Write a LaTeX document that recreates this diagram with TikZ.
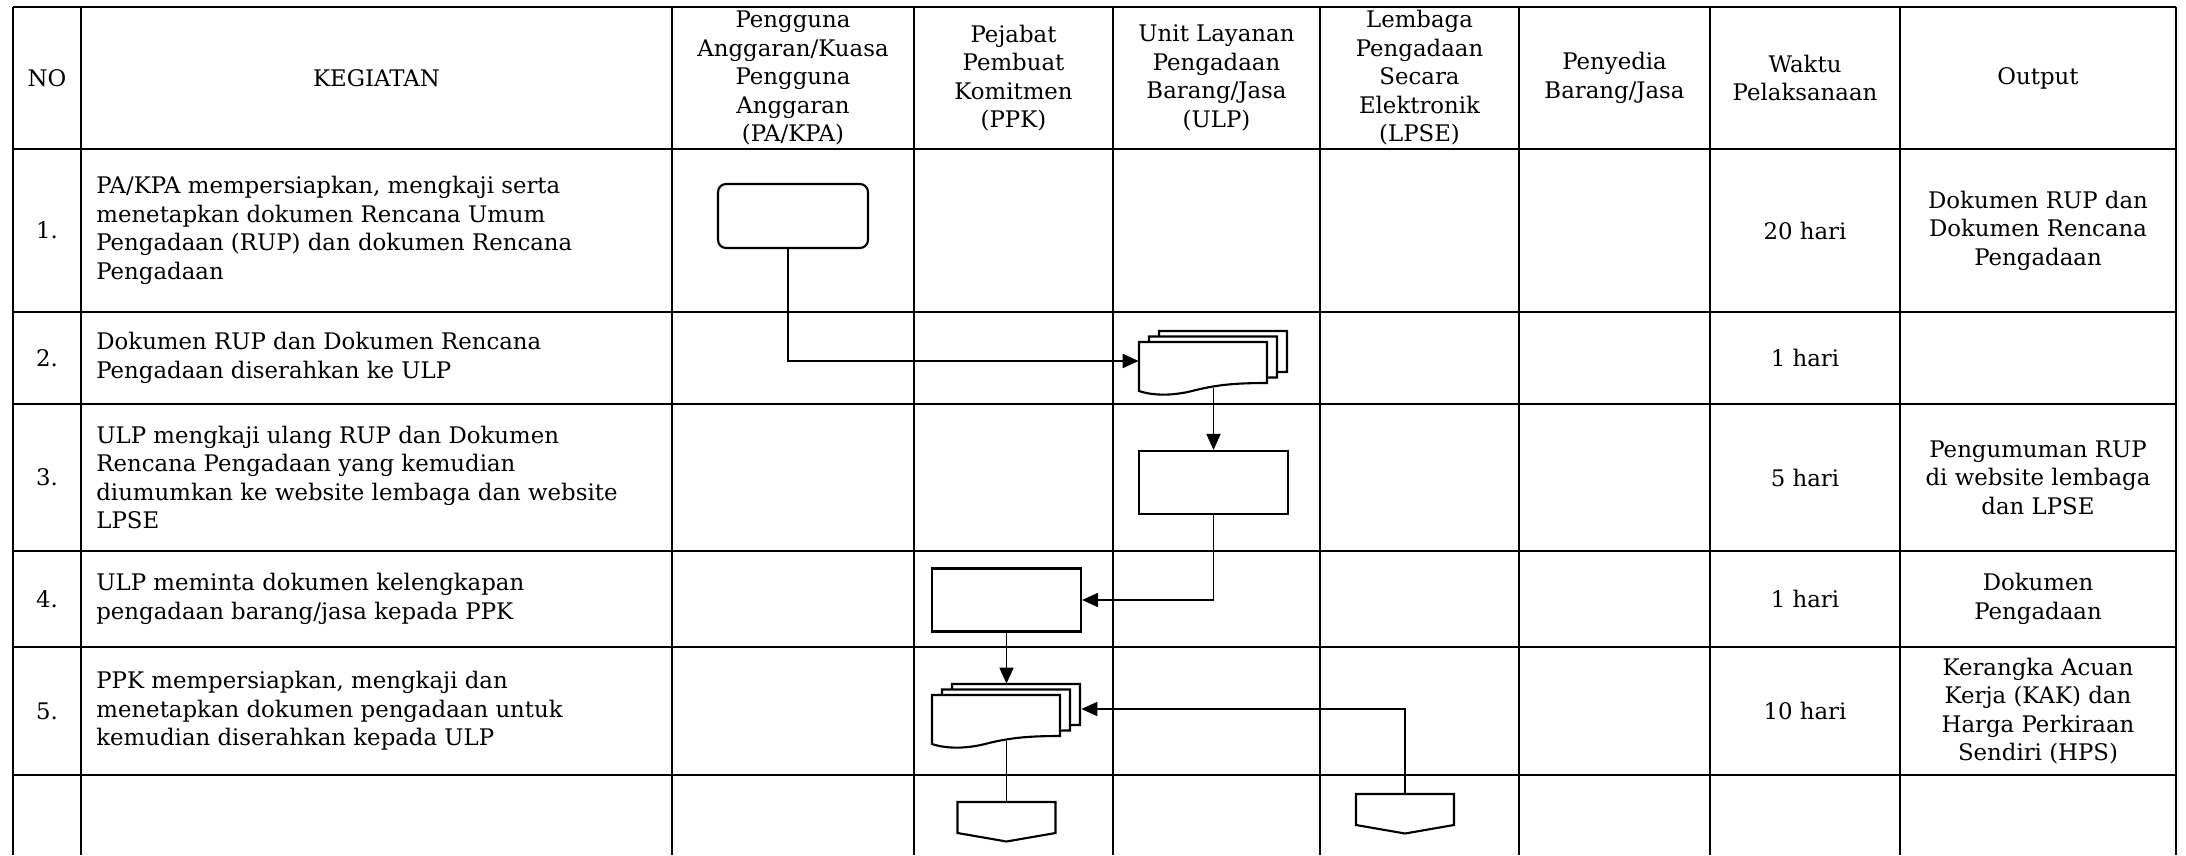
\documentclass[tikz,border=0pt]{standalone}
\usepackage{fontspec}
\setmainfont{DejaVu Serif}
\usetikzlibrary{arrows.meta}
\tikzset{
  gridline/.style={line width=1pt},
  flowline/.style={line width=1pt},
  flowarrow/.style={flowline,-{Triangle[length=0.32cm,width=0.28cm]}},
  shapeline/.style={line width=1.2pt,fill=white},
  startbox/.style={shapeline,draw,rounded corners=0.16cm,minimum width=3cm,minimum height=1.28cm,inner sep=0pt},
  procbox/.style={shapeline,draw,minimum width=2.98cm,minimum height=1.26cm,inner sep=0pt},
  stackbox/.style={minimum width=2.98cm,minimum height=1.2cm,inner sep=0pt},
  pagebox/.style={minimum width=1.96cm,minimum height=0.62cm,inner sep=0pt},
  headtext/.style={align=center,inner sep=0pt},
  celltext/.style={align=left,anchor=west,inner sep=0pt},
  pics/docstack/.style={code={
    \foreach \docshift in {2,1,0}
      \draw[shapeline,shift={(10*\docshift,-5.5*\docshift)}] (0,0) -- (128,0) -- (128,41) .. controls (95,41) and (78,43) .. (57,48) .. controls (35,54) and (15,54) .. (0,49) -- cycle;
    \node[stackbox] (-doc) at (74.5,19) {};
  }},
  pics/offpage/.style={code={
    \draw[shapeline] (0,0) -- (98,0) -- (98,31) -- (49,39.5) -- (0,31) -- cycle;
    \node[pagebox] (-box) at (49,15.5) {};
  }}
}
\begin{document}
\begin{tikzpicture}[x=0.02cm,y=-0.02cm,every node/.style={font=\fontsize{13pt}{16.2pt}\selectfont}]
        \newcommand{\tabxleft}{13}
        \newcommand{\tabxno}{81}
        \newcommand{\tabxkeg}{672}
        \newcommand{\tabxpa}{914}
        \newcommand{\tabxppk}{1113}
        \newcommand{\tabxulp}{1320}
        \newcommand{\tabxlpse}{1519}
        \newcommand{\tabxpny}{1710}
        \newcommand{\tabxwkt}{1900}
        \newcommand{\tabxright}{2176}
        \newcommand{\tabxtext}{96}
        \newcommand{\tabytop}{7}
        \newcommand{\tabyhead}{149}
        \newcommand{\tabyrowa}{312}
        \newcommand{\tabyrowb}{404}
        \newcommand{\tabyrowc}{551}
        \newcommand{\tabyrowd}{647}
        \newcommand{\tabyrowe}{775}
        \newcommand{\tabybottom}{855}
        \useasboundingbox (0,0) rectangle (2186,855);
        % table grid
        \draw[gridline] (\tabxleft,\tabytop) -- (\tabxright,\tabytop);
        \draw[gridline] (\tabxleft,\tabyhead) -- (\tabxright,\tabyhead);
        \draw[gridline] (\tabxleft,\tabyrowa) -- (\tabxright,\tabyrowa);
        \draw[gridline] (\tabxleft,\tabyrowb) -- (\tabxright,\tabyrowb);
        \draw[gridline] (\tabxleft,\tabyrowc) -- (\tabxright,\tabyrowc);
        \draw[gridline] (\tabxleft,\tabyrowd) -- (\tabxright,\tabyrowd);
        \draw[gridline] (\tabxleft,\tabyrowe) -- (\tabxright,\tabyrowe);
        \draw[gridline] (\tabxleft,\tabytop) -- (\tabxleft,\tabybottom);
        \draw[gridline] (\tabxno,\tabytop) -- (\tabxno,\tabybottom);
        \draw[gridline] (\tabxkeg,\tabytop) -- (\tabxkeg,\tabybottom);
        \draw[gridline] (\tabxpa,\tabytop) -- (\tabxpa,\tabybottom);
        \draw[gridline] (\tabxppk,\tabytop) -- (\tabxppk,\tabybottom);
        \draw[gridline] (\tabxulp,\tabytop) -- (\tabxulp,\tabybottom);
        \draw[gridline] (\tabxlpse,\tabytop) -- (\tabxlpse,\tabybottom);
        \draw[gridline] (\tabxpny,\tabytop) -- (\tabxpny,\tabybottom);
        \draw[gridline] (\tabxwkt,\tabytop) -- (\tabxwkt,\tabybottom);
        \draw[gridline] (\tabxright,\tabytop) -- (\tabxright,\tabybottom);
        % header
        \node[headtext] (hno) at (0.5*\tabxleft+0.5*\tabxno,0.5*\tabytop+0.5*\tabyhead) {NO};
        \node[headtext] (hkeg) at (0.5*\tabxno+0.5*\tabxkeg,0.5*\tabytop+0.5*\tabyhead) {KEGIATAN};
        \node[headtext] (hpa) at (0.5*\tabxkeg+0.5*\tabxpa,0.5*\tabytop+0.5*\tabyhead) {Pengguna\\Anggaran/Kuasa\\Pengguna\\Anggaran\\(PA/KPA)};
        \node[headtext] (hppk) at (0.5*\tabxpa+0.5*\tabxppk,0.5*\tabytop+0.5*\tabyhead) {Pejabat\\Pembuat\\Komitmen\\(PPK)};
        \node[headtext] (hulp) at (0.5*\tabxppk+0.5*\tabxulp,0.5*\tabytop+0.5*\tabyhead) {Unit Layanan\\Pengadaan\\Barang/Jasa\\(ULP)};
        \node[headtext] (hlpse) at (0.5*\tabxulp+0.5*\tabxlpse,0.5*\tabytop+0.5*\tabyhead) {Lembaga\\Pengadaan\\Secara\\Elektronik\\(LPSE)};
        \node[headtext] (hpny) at (0.5*\tabxlpse+0.5*\tabxpny,0.5*\tabytop+0.5*\tabyhead) {Penyedia\\Barang/Jasa};
        \node[headtext] (hwkt) at (0.5*\tabxpny+0.5*\tabxwkt,0.5*\tabytop+0.5*\tabyhead) {Waktu\\Pelaksanaan};
        \node[headtext] (hout) at (0.5*\tabxwkt+0.5*\tabxright,0.5*\tabytop+0.5*\tabyhead) {Output};
        % rows
        \node[headtext] (rano) at (0.5*\tabxleft+0.5*\tabxno,0.5*\tabyhead+0.5*\tabyrowa) {1.};
        \node[celltext] (rakeg) at (\tabxtext,0.5*\tabyhead+0.5*\tabyrowa) {PA/KPA mempersiapkan, mengkaji serta\\menetapkan dokumen Rencana Umum\\Pengadaan (RUP) dan dokumen Rencana\\Pengadaan};
        \node[headtext] (rawkt) at (0.5*\tabxpny+0.5*\tabxwkt,0.5*\tabyhead+0.5*\tabyrowa) {20 hari};
        \node[headtext] (raout) at (0.5*\tabxwkt+0.5*\tabxright,0.5*\tabyhead+0.5*\tabyrowa) {Dokumen RUP dan\\Dokumen Rencana\\Pengadaan};
        \node[headtext] (rbno) at (0.5*\tabxleft+0.5*\tabxno,0.5*\tabyrowa+0.5*\tabyrowb) {2.};
        \node[celltext] (rbkeg) at (\tabxtext,0.5*\tabyrowa+0.5*\tabyrowb) {Dokumen RUP dan Dokumen Rencana\\Pengadaan diserahkan ke ULP};
        \node[headtext] (rbwkt) at (0.5*\tabxpny+0.5*\tabxwkt,0.5*\tabyrowa+0.5*\tabyrowb) {1 hari};
        \node[headtext] (rcno) at (0.5*\tabxleft+0.5*\tabxno,0.5*\tabyrowb+0.5*\tabyrowc) {3.};
        \node[celltext] (rckeg) at (\tabxtext,0.5*\tabyrowb+0.5*\tabyrowc) {ULP mengkaji ulang RUP dan Dokumen\\Rencana Pengadaan yang kemudian\\diumumkan ke website lembaga dan website\\LPSE};
        \node[headtext] (rcwkt) at (0.5*\tabxpny+0.5*\tabxwkt,0.5*\tabyrowb+0.5*\tabyrowc) {5 hari};
        \node[headtext] (rcout) at (0.5*\tabxwkt+0.5*\tabxright,0.5*\tabyrowb+0.5*\tabyrowc) {Pengumuman RUP\\di website lembaga\\dan LPSE};
        \node[headtext] (rdno) at (0.5*\tabxleft+0.5*\tabxno,0.5*\tabyrowc+0.5*\tabyrowd) {4.};
        \node[celltext] (rdkeg) at (\tabxtext,0.5*\tabyrowc+0.5*\tabyrowd) {ULP meminta dokumen kelengkapan\\pengadaan barang/jasa kepada PPK};
        \node[headtext] (rdwkt) at (0.5*\tabxpny+0.5*\tabxwkt,0.5*\tabyrowc+0.5*\tabyrowd) {1 hari};
        \node[headtext] (rdout) at (0.5*\tabxwkt+0.5*\tabxright,0.5*\tabyrowc+0.5*\tabyrowd) {Dokumen\\Pengadaan};
        \node[headtext] (reno) at (0.5*\tabxleft+0.5*\tabxno,0.5*\tabyrowd+0.5*\tabyrowe) {5.};
        \node[celltext] (rekeg) at (\tabxtext,0.5*\tabyrowd+0.5*\tabyrowe) {PPK mempersiapkan, mengkaji dan\\menetapkan dokumen pengadaan untuk\\kemudian diserahkan kepada ULP};
        \node[headtext] (rewkt) at (0.5*\tabxpny+0.5*\tabxwkt,0.5*\tabyrowd+0.5*\tabyrowe) {10 hari};
        \node[headtext] (reout) at (0.5*\tabxwkt+0.5*\tabxright,0.5*\tabyrowd+0.5*\tabyrowe) {Kerangka Acuan\\Kerja (KAK) dan\\Harga Perkiraan\\Sendiri (HPS)};
        % flow shapes
        \node[startbox] (pabox) at (793,216) {};
        \pic (ulpstack) at (1139,342) {docstack};
        \node[procbox] (ulpbox) at (1213.5,482.5) {};
        \node[procbox] (ppkbox) at (1006.5,600) {};
        \pic (ppkstack) at (932,695) {docstack};
        \pic (ppkout) at (957.5,802) {offpage};
        \pic (lpseout) at (1356,794) {offpage};
        % connectors
        \draw[flowarrow] ([xshift=-0.1cm]pabox.south) |- (ulpstack-doc.west);
        \draw[flowarrow] ([yshift=0.07cm]ulpstack-doc.south) -- (ulpbox.north);
        \draw[flowarrow] (ulpbox.south) |- (ppkbox.east);
        \draw[flowarrow] (ppkbox.south) -- (ppkstack-doc.north);
        \draw[flowline] ([yshift=0.07cm]ppkstack-doc.south) -- (ppkout-box.north);
        \draw[flowarrow] (lpseout-box.north) |- ([yshift=0.1cm]ppkstack-doc.east);
    \end{tikzpicture}
\end{document}
